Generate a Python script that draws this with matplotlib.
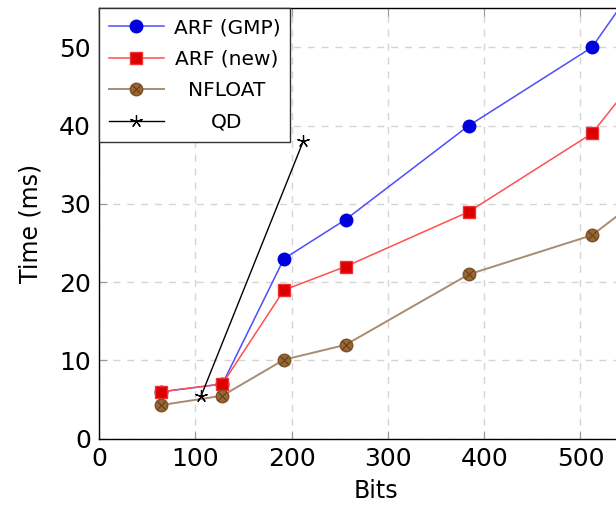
import matplotlib
matplotlib.use('Agg')
import matplotlib.pyplot as plt

# Timings (ms) per precision in bits
bits = [64, 128, 192, 256, 384, 512, 640]
arf_gmp = [6.0, 7.0, 23.0, 28.0, 40.0, 50.0, 72.5]
arf_new = [6.0, 7.0, 19.0, 22.0, 29.0, 39.0, 58.8]
nfloat = [4.3, 5.5, 10.1, 12.0, 21.0, 26.0, 38.0]
qd_bits = [106, 212]
qd = [5.5, 38.0]

plt.rcParams['font.family'] = ['DejaVu Sans']

fig = plt.figure(figsize=(6.16, 5.12), dpi=100)
ax = fig.add_axes([0.161, 0.143, 0.9, 0.841])

l1, = ax.plot(bits, arf_gmp, color='#4d4dff', lw=1.1, marker='o', ms=9,
              mfc='#0000dd', mec='#0000dd', label='ARF (GMP)', zorder=3)
l2, = ax.plot(bits, arf_new, color='#ff5050', lw=1.1, marker='s', ms=9,
              mfc='#dd0000', mec='#ee3333', label='ARF (new)', zorder=3)
l3, = ax.plot(bits, nfloat, color='#a88c72', lw=1.4, marker='o', ms=9,
              mfc='#996633', mec='#7a5228', label='NFLOAT', zorder=3)
l3x, = ax.plot(bits, nfloat, ls='none', marker='x', ms=6, mew=0.7,
               color='#5a3a18', zorder=4)
l4, = ax.plot(qd_bits, qd, color='black', lw=1.0, marker=(5, 2, 0), ms=9,
              mec='black', mew=0.9, label='QD', zorder=3)

ax.set_xlim(0, 576)
ax.set_ylim(0, 55)
ax.set_xticks([0, 100, 200, 300, 400, 500])
ax.set_yticks([0, 10, 20, 30, 40, 50])
ax.grid(True, color='#d4d4d4', ls=(0, (5, 5)), lw=1.0)
ax.set_axisbelow(True)
ax.tick_params(direction='in', length=6, color='#999999', labelsize=18,
               top=True, right=True, pad=6)
for s in ax.spines.values():
    s.set_linewidth(1.0)

ax.set_xlabel('Bits', fontsize=17, labelpad=6)
ax.set_ylabel('Time (ms)', fontsize=17, labelpad=12)

leg = ax.legend([l1, l2, (l3, l3x), l4],
                ['ARF (GMP)', 'ARF (new)', 'NFLOAT', 'QD'],
                loc='upper left', bbox_to_anchor=(0, 1), borderaxespad=0,
                fancybox=False, framealpha=1, edgecolor='#333333',
                fontsize=14.5, handlelength=2.7, labelspacing=0.62,
                borderpad=0.5, handletextpad=0.5)
leg.get_frame().set_linewidth(1.0)

# centre the legend labels in their column
r = fig.canvas.get_renderer()
texts = leg.get_texts()
widths = [t.get_window_extent(r).width for t in texts]
for t, w in zip(texts, widths):
    t.set_position(((max(widths) - w) / 2, 0))

fig.savefig('out.png', dpi=100)
